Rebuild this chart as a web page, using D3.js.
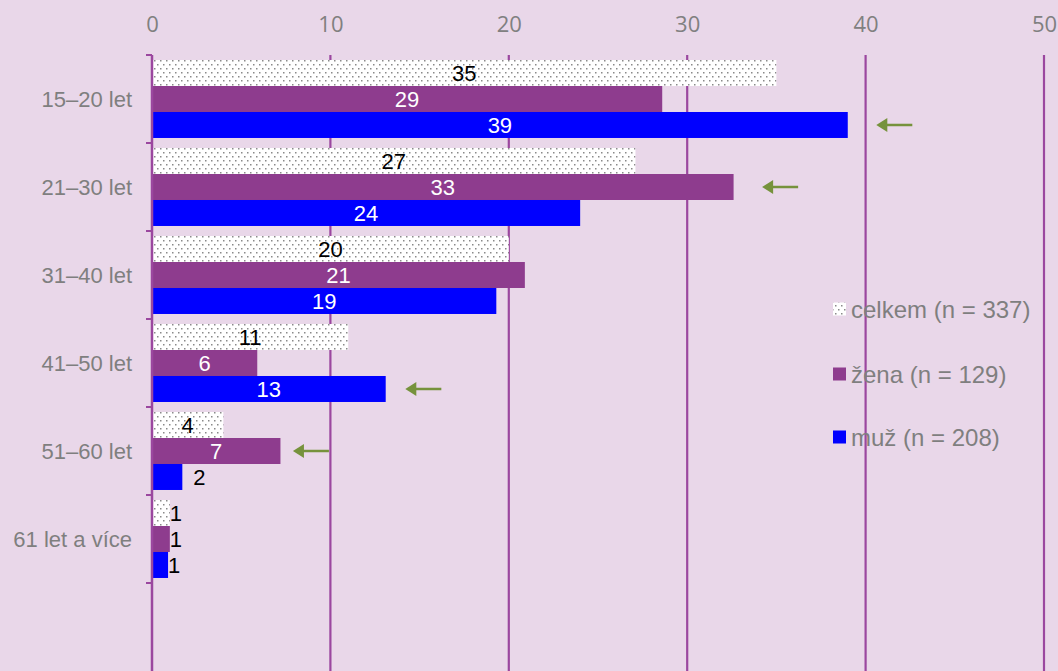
<!DOCTYPE html>
<html>
<head>
<meta charset="utf-8">
<script src="https://cdn.jsdelivr.net/npm/d3@7/dist/d3.min.js"></script>
<style>
  html, body { margin: 0; padding: 0; background: #e9d7e9; }
  svg { display: block; }
</style>
</head>
<body>
<svg id="chart" width="1058" height="671"></svg>
<script>
// ---- data ----
const categories = ["15–20 let", "21–30 let", "31–40 let", "41–50 let", "51–60 let", "61 let a více"];
const seriesNames = ["celkem", "žena", "muž"];
const legendLabels = ["celkem (n = 337)", "žena (n = 129)", "muž (n = 208)"];
const celkem = [35.0, 27.1, 20.0, 11.0, 4.0, 1.0];
const zena   = [28.6, 32.6, 20.9, 5.9, 7.2, 1.0];
const muz    = [39.0, 24.0, 19.3, 13.1, 1.7, 0.9];
const xTicks = [0, 10, 20, 30, 40, 50];
// arrows: category, series, x value of arrow tip
const arrowCats   = ["15–20 let", "21–30 let", "41–50 let", "51–60 let"];
const arrowSeries = ["muž", "žena", "muž", "žena"];
const arrowTips   = [40.6, 34.2, 14.2, 7.9];

(function() {
const seriesValues = { "celkem": celkem, "žena": zena, "muž": muz };
const colors = { "celkem": "url(#dots)", "žena": "#8e3c8e", "muž": "#0000ff" };
const labelColors = { "celkem": "#000", "žena": "#fff", "muž": "#fff" };

const svg = d3.select("#chart");
const W = 1058, H = 671;
const mLeft = 152, mRight = 1044, mTop = 55, mBottom = 671;

// pattern
const defs = svg.append("defs");
const pat = defs.append("pattern").attr("id", "dots").attr("patternUnits", "userSpaceOnUse")
  .attr("width", 6).attr("height", 8);
pat.append("rect").attr("width", 6).attr("height", 8).attr("fill", "#fff");
pat.append("rect").attr("x", 1).attr("y", 1).attr("width", 1.5).attr("height", 1.5).attr("fill", "#8a8a8a");
pat.append("rect").attr("x", 4).attr("y", 5).attr("width", 1.5).attr("height", 1.5).attr("fill", "#8a8a8a");

svg.append("rect").attr("width", W).attr("height", H).attr("fill", "#e9d7e9");

const x = d3.scaleLinear().domain([0, 50]).range([mLeft, mRight]);
const y0 = d3.scaleBand().domain([...categories, ""]).range([mTop, mBottom]).padding(0);
const bw = y0.bandwidth();
const pad = bw * 0.057;
const y1 = d3.scaleBand().domain(seriesNames).range([pad, bw - pad]).padding(0);

// gridlines
const gridColor = "#9b479f";
svg.append("g").selectAll("line").data(xTicks.filter(t => t > 0)).join("line")
  .attr("x1", d => x(d)).attr("x2", d => x(d))
  .attr("y1", mTop).attr("y2", mBottom)
  .attr("stroke", gridColor).attr("stroke-width", 2.2);

// top axis labels
const xAxis = d3.axisTop(x).tickValues(xTicks).tickSize(0).tickPadding(0);
const gx = svg.append("g").attr("transform", `translate(0,${mTop})`).call(xAxis);
gx.select(".domain").remove();
gx.selectAll("text").attr("font-family", "'Open Sans', sans-serif").attr("font-size", 22)
  .attr("fill", "#808080").attr("dy", "0.36em").attr("y", -31);

// bars
const groups = svg.append("g").selectAll("g").data(categories).join("g")
  .attr("transform", d => `translate(0,${y0(d)})`);

groups.each(function(cat, i) {
  const g = d3.select(this);
  seriesNames.forEach(s => {
    const v = seriesValues[s][i];
    const w = x(v) - x(0);
    g.append("rect")
      .attr("x", x(0)).attr("y", y1(s))
      .attr("width", w).attr("height", y1.bandwidth())
      .attr("fill", colors[s]);
    const lbl = d3.format(".0f")(v);
    let tx, anchor, fill;
    if (w >= 40 || (w >= 25 && s === "celkem")) {
      tx = x(0) + w / 2; anchor = "middle"; fill = labelColors[s];
    } else {
      tx = x(v) + (w < 22 ? 0 : 11); anchor = "start"; fill = "#000";
    }
    g.append("text").attr("x", tx).attr("y", y1(s) + y1.bandwidth() / 2)
      .attr("dy", "0.36em").attr("text-anchor", anchor)
      .attr("font-family", "'Liberation Sans', Arial, sans-serif").attr("font-size", 22)
      .attr("fill", fill).text(lbl);
  });
});

// left axis line + ticks
const axisG = svg.append("g");
axisG.append("line").attr("x1", mLeft).attr("x2", mLeft).attr("y1", mTop).attr("y2", mBottom)
  .attr("stroke", gridColor).attr("stroke-width", 2.5);
const boundaries = [...categories, ""].map(c => y0(c));
axisG.selectAll(".tk").data(boundaries).join("line").attr("class", "tk")
  .attr("x1", mLeft - 6).attr("x2", mLeft).attr("y1", d => d).attr("y2", d => d)
  .attr("stroke", gridColor).attr("stroke-width", 2);

// category labels
svg.append("g").selectAll("text").data(categories).join("text")
  .attr("x", 132).attr("y", d => y0(d) + bw / 2).attr("dy", "0.36em")
  .attr("text-anchor", "end")
  .attr("font-family", "'Liberation Sans', Arial, sans-serif").attr("font-size", 22)
  .attr("fill", "#7f7f7f").text(d => d);

// arrows
const arrowColor = "#76923c";
const ag = svg.append("g");
arrowCats.forEach((c, i) => {
  const yy = y0(c) + y1(arrowSeries[i]) + y1.bandwidth() / 2;
  const tip = x(arrowTips[i]);
  ag.append("line").attr("x1", tip + 8).attr("x2", tip + 36).attr("y1", yy).attr("y2", yy)
    .attr("stroke", arrowColor).attr("stroke-width", 2.5);
  ag.append("path").attr("d", `M${tip},${yy} L${tip + 11},${yy - 7} L${tip + 11},${yy + 7} Z`)
    .attr("fill", arrowColor);
});

// legend
const legendY = [309, 374, 437];
const lg = svg.append("g");
seriesNames.forEach((s, i) => {
  lg.append("rect").attr("x", 833).attr("y", legendY[i] - 6.5).attr("width", 13).attr("height", 13)
    .attr("fill", colors[s]);
  lg.append("text").attr("x", 851).attr("y", legendY[i]).attr("dy", "0.36em")
    .attr("font-family", "'Liberation Sans', Arial, sans-serif").attr("font-size", 24)
    .attr("fill", "#7f7f7f").text(legendLabels[i]);
});
})();
</script>
</body>
</html>
